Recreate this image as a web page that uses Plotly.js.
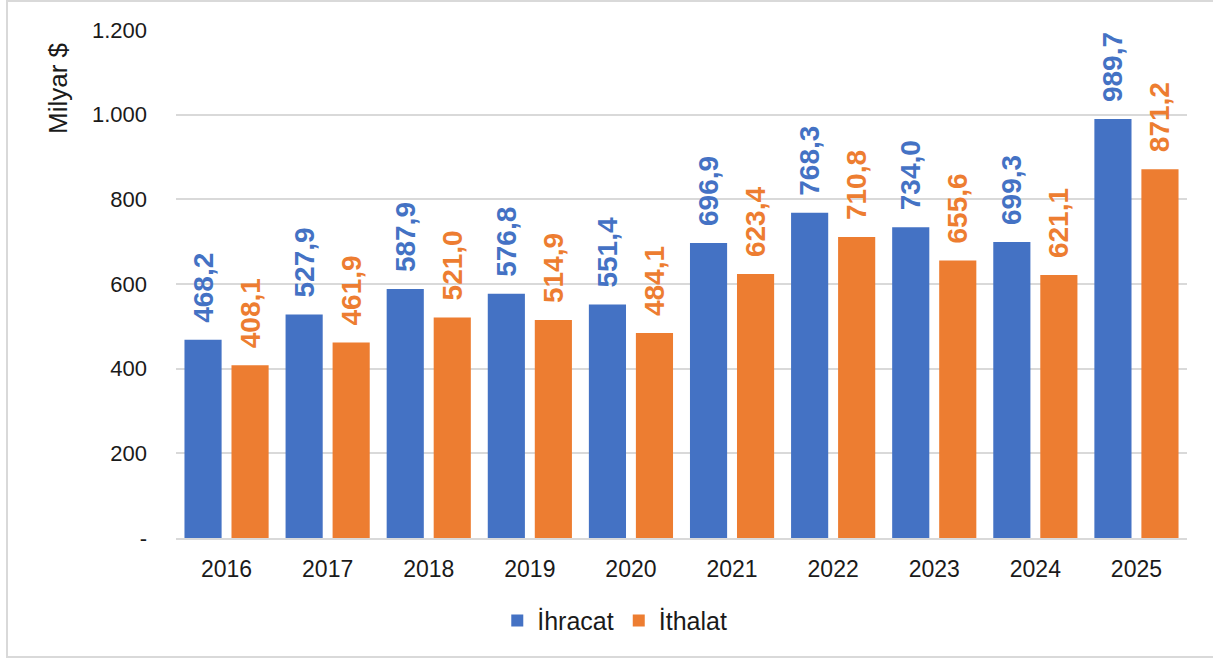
<!DOCTYPE html>
<html>
<head>
<meta charset="utf-8">
<script src="https://cdn.plot.ly/plotly-3.0.1.min.js"></script>
<style>html,body{margin:0;padding:0;background:#fff;}#chart{width:1213px;height:659px;}</style>
</head>
<body>
<div id="chart"></div>
<script>
const years = ['2016','2017','2018','2019','2020','2021','2022','2023','2024','2025'];
const ihracat = [468.2, 527.9, 587.9, 576.8, 551.4, 696.9, 768.3, 734.0, 699.3, 989.7];
const ithalat = [408.1, 461.9, 521.0, 514.9, 484.1, 623.4, 710.8, 655.6, 621.1, 871.2];
const yTickVals = [0, 200, 400, 600, 800, 1000, 1200];
const yTickText = ['-', '200', '400', '600', '800', '1.000', '1.200'];
const seriesNames = ['İhracat', 'İthalat'];
const colors = ['#4472C4', '#ED7D31'];

const FONT = 'Liberation Sans, Arial, sans-serif';

function barTrace(name, vals, color) {
  return {
    type: 'bar', name: name, x: years, y: vals,
    marker: {color: color, line: {width: 0}},
    texttemplate: '\u2002%{y:.1f}',
    textposition: 'outside',
    textangle: -90,
    constraintext: 'none',
    cliponaxis: false,
    textfont: {family: FONT, size: 28, color: color, weight: 'bold'},
    hoverinfo: 'skip'
  };
}

const data = [
  barTrace(seriesNames[0], ihracat, colors[0]),
  barTrace(seriesNames[1], ithalat, colors[1])
];

const layout = {
  width: 1213, height: 659,
  margin: {l: 176, r: 26, t: 30, b: 121},
  paper_bgcolor: '#fff', plot_bgcolor: '#fff',
  separators: ',.',
  font: {family: FONT, color: '#1a1a1a'},
  barmode: 'group',
  bargap: 0.07,
  bargroupgap: 0.21,
  showlegend: true,
  legend: {
    orientation: 'h', x: 0.434, xanchor: 'center', y: -0.163, yanchor: 'middle',
    font: {family: FONT, size: 25, color: '#1a1a1a'},
    itemwidth: 30, traceorder: 'normal'
  },
  xaxis: {
    type: 'category',
    showgrid: false, showline: true, linecolor: '#D9D9D9', linewidth: 2,
    ticks: '', ticklabelstandoff: 9,
    tickfont: {family: FONT, size: 23, color: '#1a1a1a'},
    fixedrange: true
  },
  yaxis: {
    range: [0, 1200],
    tickvals: yTickVals, ticktext: yTickText,
    showgrid: true, gridcolor: '#D9D9D9', gridwidth: 2,
    zeroline: false, showline: false, ticks: '',
    ticklabelstandoff: 28,
    tickfont: {family: FONT, size: 22, color: '#1a1a1a'},
    fixedrange: true
  },
  annotations: [{
    text: 'Milyar $', xref: 'paper', yref: 'paper',
    x: (58 - 176) / 1011, y: (538 - 88) / 508,
    xanchor: 'center', yanchor: 'middle', textangle: -90, showarrow: false,
    font: {family: FONT, size: 26, color: '#1a1a1a'}
  }],
  shapes: [{
    type: 'rect', xref: 'paper', yref: 'paper',
    x0: (7 - 176) / 1011, x1: (1240 - 176) / 1011,
    y0: (538 - 657) / 508, y1: (538 - 1) / 508,
    line: {color: '#D9D9D9', width: 2}, fillcolor: 'rgba(0,0,0,0)', layer: 'below'
  }]
};

Plotly.newPlot('chart', data, layout, {displayModeBar: false, staticPlot: true});
</script>
</body>
</html>
